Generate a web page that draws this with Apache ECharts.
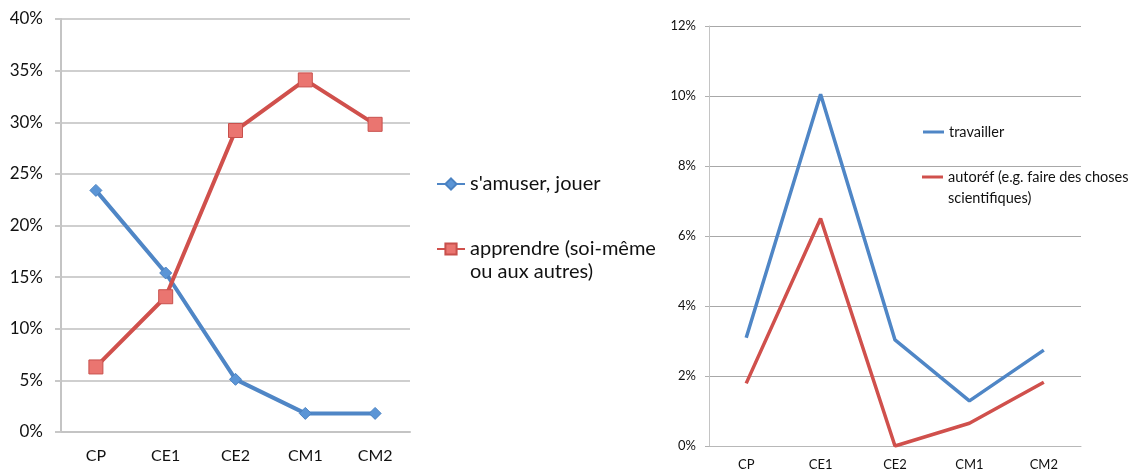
<!DOCTYPE html>
<html><head><meta charset="utf-8">
<script src="https://cdn.jsdelivr.net/npm/echarts@6/dist/echarts.min.js"></script>
<style>html,body{margin:0;padding:0;background:#fff}#c{width:1130px;height:469px}</style>
</head><body><div id="c"></div>
<script>
const categories = ['CP', 'CE1', 'CE2', 'CM1', 'CM2'];
const leftTicks = [0, 5, 10, 15, 20, 25, 30, 35, 40];
const rightTicks = [0, 2, 4, 6, 8, 10, 12];
const samuser = [23.4, 15.4, 5.1, 1.8, 1.8];
const apprendre = [6.3, 13.1, 29.2, 34.1, 29.8];
const travailler = [3.09, 10.05, 3.03, 1.29, 2.74];
const autoref = [1.79, 6.5, 0, 0.65, 1.82];
const names = ["s'amuser, jouer", 'apprendre (soi-même\nou aux autres)', 'travailler', 'autoréf (e.g. faire des choses\nscientifiques)'];

const FONT = 'Lato, "Open Sans", sans-serif';
const chart = echarts.init(document.getElementById('c'));
const blue = '#4f86c6', red = '#d0504c';
const lineIcon = 'rect';
chart.setOption({
  animation: false,
  textStyle: { fontFamily: FONT },
  grid: [
    { left: 61, top: 19, right: 720, bottom: 37, containLabel: false, outerBoundsMode: 'none' },
    { left: 709, top: 26, right: 49, bottom: 23, containLabel: false, outerBoundsMode: 'none' }
  ],
  xAxis: [
    { type: 'category', gridIndex: 0, data: categories, boundaryGap: true,
      axisLine: { lineStyle: { color: '#c4c4c4', width: 2 } },
      axisTick: { length: 4, lineStyle: { color: '#c4c4c4', width: 2 } },
      axisLabel: { color: '#111', fontSize: 16, margin: 16, fontFamily: FONT } },
    { type: 'category', gridIndex: 1, data: categories, boundaryGap: true,
      axisLine: { lineStyle: { color: '#b8b8b8', width: 1 } },
      axisTick: { length: 4, lineStyle: { color: '#b8b8b8' } },
      axisLabel: { color: '#111', fontSize: 13, margin: 12, fontFamily: FONT } }
  ],
  yAxis: [
    { type: 'value', gridIndex: 0, min: leftTicks[0], max: leftTicks[leftTicks.length - 1], interval: 5,
      axisLine: { show: true, lineStyle: { color: '#c4c4c4', width: 2 } },
      axisTick: { show: true, length: 6, lineStyle: { color: '#c8c8c8', width: 2 } },
      splitLine: { lineStyle: { color: '#cfcfcf', width: 2 } },
      axisLabel: { color: '#111', fontSize: 17, margin: 18, fontFamily: FONT, formatter: v => v + '%' } },
    { type: 'value', gridIndex: 1, min: rightTicks[0], max: rightTicks[rightTicks.length - 1], interval: 2,
      axisLine: { show: true, lineStyle: { color: '#c4c4c4', width: 1 } },
      axisTick: { show: true, length: 4, lineStyle: { color: '#b0b0b0' } },
      splitLine: { lineStyle: { color: '#a8a8a8', width: 1 } },
      axisLabel: { color: '#111', fontSize: 13, margin: 13, fontFamily: FONT, formatter: v => v + '%' } }
  ],
  legend: [
    { data: [names[0]], left: 436, top: 172.5, padding: 0, itemWidth: 28, itemHeight: 14,
      textStyle: { fontSize: 20, lineHeight: 23, color: '#111', fontFamily: FONT } },
    { data: [names[1]], left: 436, top: 214.5, padding: 0, itemWidth: 28, itemHeight: 14,
      formatter: n => '\n' + n,
      textStyle: { fontSize: 20, lineHeight: 23, color: '#111', fontFamily: FONT } },
    { data: [names[2]], left: 923, top: 121.5, padding: 0, itemWidth: 21, itemHeight: 3, icon: lineIcon,
      textStyle: { fontSize: 14.5, lineHeight: 21, color: '#111', fontFamily: FONT } },
    { data: [names[3]], left: 922, top: 145.5, padding: 0, itemWidth: 21, itemHeight: 3, icon: lineIcon,
      formatter: n => '\n' + n,
      textStyle: { fontSize: 14.5, lineHeight: 21, color: '#111', fontFamily: FONT, overflow: 'none' } }
  ],
  series: [
    { name: names[0], type: 'line', xAxisIndex: 0, yAxisIndex: 0, data: samuser,
      symbol: 'diamond', symbolSize: 12,
      lineStyle: { color: blue, width: 4 },
      itemStyle: { color: '#5b95d6', borderColor: '#4a82c2', borderWidth: 1 } },
    { name: names[1], type: 'line', xAxisIndex: 0, yAxisIndex: 0, data: apprendre,
      symbol: 'rect', symbolSize: 14,
      lineStyle: { color: red, width: 4 },
      itemStyle: { color: '#ea7570', borderColor: '#c8504c', borderWidth: 1 } },
    { name: names[2], type: 'line', xAxisIndex: 1, yAxisIndex: 1, data: travailler,
      symbol: 'none', lineStyle: { color: blue, width: 3.5 }, itemStyle: { color: blue } },
    { name: names[3], type: 'line', xAxisIndex: 1, yAxisIndex: 1, data: autoref,
      symbol: 'none', lineStyle: { color: red, width: 3.5 }, itemStyle: { color: red } }
  ]
});
</script></body></html>
